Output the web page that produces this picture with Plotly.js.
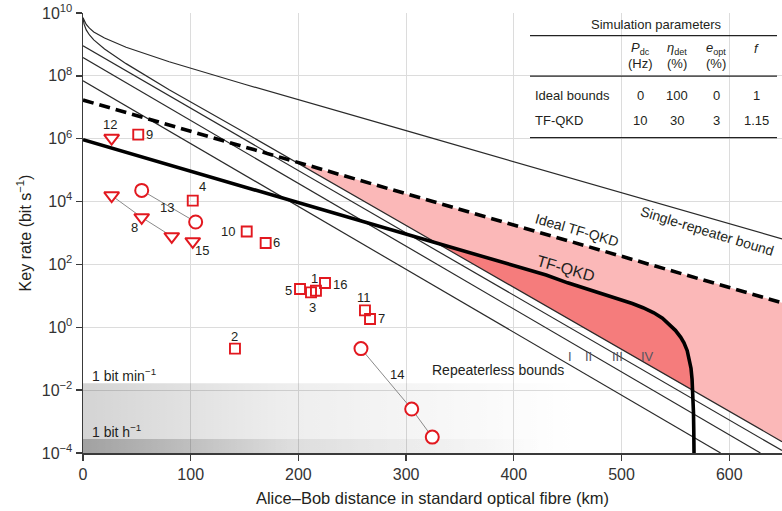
<!DOCTYPE html>
<html><head><meta charset="utf-8">
<script src="https://cdn.plot.ly/plotly-3.0.1.min.js"></script>
<style>html,body{margin:0;padding:0;background:#fff;} #chart{width:782px;height:511px;}</style>
</head><body><div id="chart"></div>
<script>
// ---------------- data ----------------
// Bounds and simulations: distance (km) -> key rate (bit/s)
const singleRepeaterX = [0, 1, 3, 6, 10, 20, 40, 80, 150, 300, 649];
const singleRepeaterY = [7.0e9, 6.0e9, 4.3e9, 3.3e9, 2.5e9, 1.6e9, 8.1e8, 2.8e8, 5.4e7, 1.8e6, 650];
const boundIVX = [0, 1, 3, 6, 10, 20, 40, 80, 150, 649];
const boundIVY = [7.0e9, 4.4e9, 2.9e9, 2.0e9, 1.4e9, 7.2e8, 2.45e8, 3.6e7, 1.57e6, 2.3e-4];
const boundIIIX = [0, 649];
const boundIIIY = [9.0e8, 1.2e-4];
const boundIIX = [0, 629];
const boundIIY = [3.8e8, 1e-4];
const boundIX = [0, 592];
const boundIY = [7.0e7, 1e-4];
const idealTFX = [0, 649];
const idealTFY = [1.7e7, 6.0];
const tfX = [0, 300, 430, 450, 470, 490, 500, 510, 520, 530, 538, 545, 550, 555, 558, 561, 563, 564.5, 565.5, 566.3, 566.8, 567.1, 567.3];
const tfY = [9.3e5, 930, 46, 26, 15.8, 9.6, 7.5, 5.7, 4.2, 2.9, 1.95, 1.2, 0.8, 0.48, 0.32, 0.18, 0.1, 0.05, 0.022, 7.9e-3, 2.0e-3, 5e-4, 1e-4];
// Shaded regions (vertices)
const idealGainX = [197, 649, 649];
const idealGainY = [1.86e5, 6.0, 2.3e-4];
const tfGainX = [328, 430, 450, 470, 490, 500, 510, 520, 530, 538, 545, 550, 555, 558, 561, 563, 564.5, 565.5, 566];
const tfGainY = [490, 46, 26, 15.8, 9.6, 7.5, 5.7, 4.2, 2.9, 1.95, 1.2, 0.8, 0.48, 0.32, 0.18, 0.1, 0.05, 0.022, 0.0098];
// Reference rates
const bitPerMinute = 1 / 60;
const bitPerHour = 1 / 3600;
// Experiments
const squareIds = ['9', '4', '10', '6', '5', '3', '1', '16', '11', '7', '2'];
const squareX = [51.3, 101.9, 152, 169.6, 201.5, 211.7, 216.3, 224.7, 261.8, 266.5, 141.1];
const squareY = [1.35e6, 1.07e4, 1.12e3, 480, 16.5, 12.9, 14.6, 25.6, 3.45, 1.84, 0.21];
const circle13X = [54.5, 104.6];
const circle13Y = [2.27e4, 2.24e3];
const circle14X = [258.1, 305.2, 324.3];
const circle14Y = [0.21, 2.5e-3, 3.2e-4];
const tri8X = [26.6, 54.5, 82.4];
const tri8Y = [1.55e4, 3.14e3, 780];
const triSingleIds = ['12', '15'];
const triSingleX = [26.6, 101.9];
const triSingleY = [1.05e6, 540];
// x and y tick labels
const xTicks = [0, 100, 200, 300, 400, 500, 600];
const yTickExp = [-4, -2, 0, 2, 4, 6, 8, 10];
// Table
const tableHead = ['<i>P</i><sub>dc</sub>', '<i>η</i><sub>det</sub>', '<i>e</i><sub>opt</sub>', '<i>f</i>'];
const tableUnits = ['(Hz)', '(%)', '(%)', ''];
const tableRows = ['Ideal bounds', 'TF-QKD'];
const tableValues = [['0', '100', '0', '1'], ['10', '30', '3', '1.15']];

// ---------------- styling ----------------
const FONT = 'Liberation Sans, Arial, Helvetica, sans-serif';
const RED = '#e2181f';
const INK = '#231f20';
const PX = x => (x - 83) / 699;          // pixel -> paper
const PY = y => (453.3 - y) / 440;

const traces = [];
// grey gradient bands
traces.push({x: [0, 649, 649, 0], y: [1e-4, 1e-4, bitPerMinute, bitPerMinute], mode: 'lines', line: {width: 0},
  fill: 'toself', fillcolor: 'rgba(0,0,0,0.1)',
  fillgradient: {type: 'horizontal', start: 0, stop: 460,
    colorscale: [[0, 'rgba(0,0,0,0.17)'], [0.4, 'rgba(0,0,0,0.07)'], [1, 'rgba(0,0,0,0)']]},
  hoverinfo: 'skip', showlegend: false});
traces.push({x: [0, 649, 649, 0], y: [1e-4, 1e-4, bitPerHour, bitPerHour], mode: 'lines', line: {width: 0},
  fill: 'toself', fillcolor: 'rgba(0,0,0,0.1)',
  fillgradient: {type: 'horizontal', start: 0, stop: 430,
    colorscale: [[0, 'rgba(0,0,0,0.24)'], [0.45, 'rgba(0,0,0,0.07)'], [1, 'rgba(0,0,0,0)']]},
  hoverinfo: 'skip', showlegend: false});
// coloured regions
traces.push({x: idealGainX, y: idealGainY, mode: 'lines', line: {width: 0}, fill: 'toself',
  fillcolor: '#fbb8b8', hoverinfo: 'skip', showlegend: false});
traces.push({x: tfGainX, y: tfGainY, mode: 'lines', line: {width: 0}, fill: 'toself',
  fillcolor: '#f57c7c', hoverinfo: 'skip', showlegend: false});
// thin bounds
[[singleRepeaterX, singleRepeaterY], [boundIVX, boundIVY], [boundIIIX, boundIIIY], [boundIIX, boundIIY], [boundIX, boundIY]]
  .forEach(([x, y]) => traces.push({x, y, mode: 'lines', line: {color: '#2a2a2a', width: 1.2},
    hoverinfo: 'skip', showlegend: false}));
// TF-QKD lines
traces.push({x: idealTFX, y: idealTFY, mode: 'lines', line: {color: '#000', width: 3.6, dash: '11px,6px'},
  hoverinfo: 'skip', showlegend: false});
traces.push({x: tfX, y: tfY, mode: 'lines', line: {color: '#000', width: 3.6},
  hoverinfo: 'skip', showlegend: false});
// connecting lines for experiment series
[[circle13X, circle13Y], [circle14X, circle14Y], [tri8X, tri8Y]].forEach(([x, y]) =>
  traces.push({x, y, mode: 'lines', line: {color: '#8a8a8a', width: 1}, hoverinfo: 'skip', showlegend: false}));
// markers
traces.push({x: squareX, y: squareY, mode: 'markers', showlegend: false,
  marker: {symbol: 'square-open', size: 10, color: RED, line: {color: RED, width: 1.9}}});
traces.push({x: circle13X.concat(circle14X), y: circle13Y.concat(circle14Y), mode: 'markers', showlegend: false,
  marker: {symbol: 'circle', size: 13, color: '#fff', line: {color: RED, width: 2}}});
traces.push({x: tri8X.concat(triSingleX), y: tri8Y.concat(triSingleY), mode: 'markers', showlegend: false,
  marker: {symbol: 'triangle-down', size: 13, color: '#fff', line: {color: RED, width: 2}}});

// ---------------- annotations ----------------
const ann = [];
function note(o) {
  ann.push(Object.assign({showarrow: false, xanchor: 'center', yanchor: 'middle'}, o));
}
const numLabels = [
  ['12', 25, 6.45], ['9', 62.2, 6.13], ['4', 111.4, 4.47], ['13', 77.7, 3.815], ['8', 47.4, 3.17],
  ['15', 110.2, 2.447], ['10', 134.6, 3.04], ['6', 180.1, 2.69], ['5', 190.6, 1.17], ['3', 212.9, 0.614],
  ['1', 215.4, 1.537], ['16', 238.6, 1.355], ['11', 260.9, 0.932], ['7', 277.3, 0.264], ['2', 140.5, -0.29],
  ['14', 291.3, -1.51]];
numLabels.forEach(([t, x, y]) => note({text: t, x, y, xref: 'x', yref: 'y',
  font: {size: 13, color: INK, family: FONT}}));
const romans = [['I', 452.2], ['II', 469.8], ['III', 495.8], ['IV', 523.7]];
romans.forEach(([t, x]) => note({text: t, x, y: -0.935, xref: 'x', yref: 'y',
  font: {size: 13, color: '#55555f', family: FONT}}));
note({text: 'Repeaterless bounds', x: 385.3, y: -1.35, xref: 'x', yref: 'y',
  font: {size: 14, color: INK, family: FONT}});
note({text: 'Ideal TF-QKD', x: 458.7, y: 3.105, xref: 'x', yref: 'y', textangle: 16,
  font: {size: 14, color: INK, family: FONT}});
note({text: 'TF-QKD', x: 448.5, y: 1.865, xref: 'x', yref: 'y', textangle: 16,
  font: {size: 16, color: INK, family: FONT}});
note({text: 'Single-repeater bound', x: 579.4, y: 3.07, xref: 'x', yref: 'y', textangle: 17,
  font: {size: 14, color: INK, family: FONT}});
note({text: '1 bit min<sup>−1</sup>', x: PX(90), y: PY(375), xref: 'paper', yref: 'paper', xanchor: 'left',
  font: {size: 14, color: INK, family: FONT}});
note({text: '1 bit h<sup>−1</sup>', x: PX(90), y: PY(431), xref: 'paper', yref: 'paper', xanchor: 'left',
  font: {size: 14, color: INK, family: FONT}});
// table
note({text: 'Simulation parameters', x: PX(656), y: PY(25), xref: 'paper', yref: 'paper',
  font: {size: 13, color: INK, family: FONT}});
const colX = [640, 677, 716, 756];
tableHead.forEach((t, i) => note({text: t, x: PX(colX[i]), y: PY(49), xref: 'paper', yref: 'paper',
  font: {size: 13, color: INK, family: FONT}}));
tableUnits.forEach((t, i) => { if (t) note({text: t, x: PX(colX[i]), y: PY(64), xref: 'paper', yref: 'paper',
  font: {size: 13, color: INK, family: FONT}}); });
const rowY = [96, 121];
tableRows.forEach((t, r) => {
  note({text: t, x: PX(533), y: PY(rowY[r]), xref: 'paper', yref: 'paper', xanchor: 'left',
    font: {size: 13, color: INK, family: FONT}});
  tableValues[r].forEach((v, i) => note({text: v, x: PX(colX[i]), y: PY(rowY[r]), xref: 'paper', yref: 'paper',
    font: {size: 13, color: INK, family: FONT}}));
});
const shapes = [36, 76.5, 138].map(py => ({type: 'line', xref: 'paper', yref: 'paper',
  x0: PX(530), x1: PX(777), y0: PY(py), y1: PY(py), line: {color: '#222', width: 1.3}}));

const axisCommon = {showgrid: true, gridcolor: '#dcdcdc', gridwidth: 1, zeroline: false, showline: true,
  linecolor: '#3a3a3a', linewidth: 1.5, ticks: 'outside', ticklen: 6, tickwidth: 1.3, tickcolor: '#3a3a3a',
  tickfont: {size: 16, color: '#333', family: FONT}};

const layout = {
  width: 782, height: 511, paper_bgcolor: '#fff', plot_bgcolor: '#fff',
  margin: {l: 83, r: 0, t: 13, b: 58},
  font: {family: FONT, color: INK},
  xaxis: Object.assign({}, axisCommon, {range: [0, 649], tickvals: xTicks, ticktext: xTicks.map(String),
    title: {text: 'Alice–Bob distance in standard optical fibre (km)', font: {size: 16.5, color: INK, family: FONT}, standoff: 10}}),
  yaxis: Object.assign({}, axisCommon, {type: 'log', range: [-4, 10], tickvals: yTickExp.map(e => Math.pow(10, e)),
    ticktext: yTickExp.map(e => '10<sup>' + String(e).replace('-', '−') + '</sup>'),
    title: {text: 'Key rate (bit s<sup>−1</sup>)', font: {size: 16, color: INK, family: FONT}, standoff: 6}}),
  annotations: ann, shapes: shapes, showlegend: false
};
Plotly.newPlot('chart', traces, layout, {staticPlot: true});
</script></body></html>
